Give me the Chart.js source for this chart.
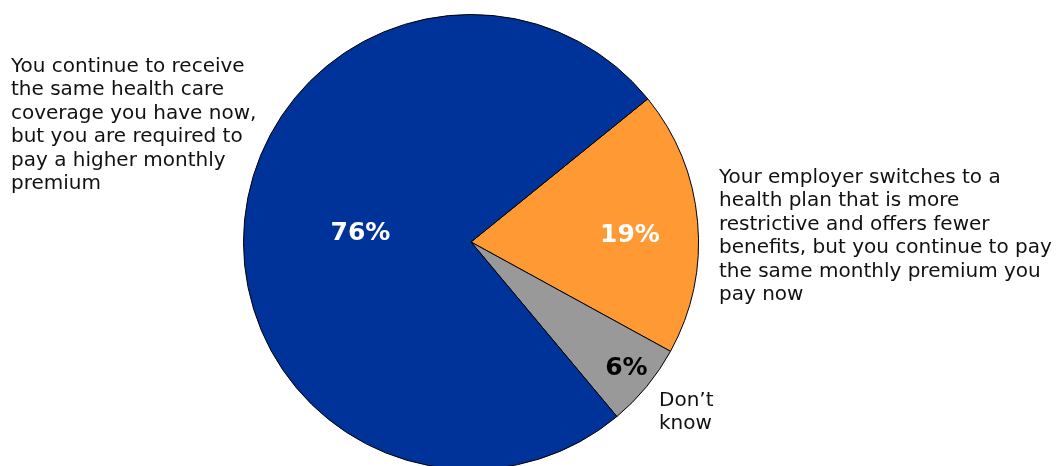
<!DOCTYPE html>
<html>
<head>
<meta charset="utf-8">
<title>Health coverage preference</title>
<script src="https://cdn.jsdelivr.net/npm/chart.js@4/dist/chart.umd.min.js"></script>
<style>
  html, body { margin: 0; padding: 0; background: #ffffff; overflow: hidden; }
  #wrap { width: 1057px; height: 466px; position: relative; }
</style>
</head>
<body>
<div id="wrap"><canvas id="pie" width="1057" height="466"></canvas></div>
<script>
// Answer options, in drawing order (clockwise from the upper-right edge)
const categories = [
  "Your employer switches to a health plan that is more restrictive and offers fewer benefits, but you continue to pay the same monthly premium you pay now",
  "Don\u2019t know",
  "You continue to receive the same health care coverage you have now, but you are required to pay a higher monthly premium"
];
// Share of respondents, percent
const shares = [19, 6, 76];
// Category text as it is broken onto lines beside the pie
const categoryLines = [
  ["Your employer switches to a", "health plan that is more", "restrictive and offers fewer", "benefits, but you continue to pay", "the same monthly premium you", "pay now"],
  ["Don\u2019t", "know"],
  ["You continue to receive", "the same health care", "coverage you have now,", "but you are required to", "pay a higher monthly", "premium"]
];
const sliceColors = ["#FF9933", "#999999", "#003399"];
const pctColors = ["#ffffff", "#000000", "#ffffff"];

// Where each percentage sits: fraction of the radius and a clockwise angular nudge (deg)
const pctPlacement = [
  { frac: 0.70, nudge: 1.9 },
  { frac: 0.874, nudge: -0.8 },
  { frac: 0.488, nudge: 0 }
];
// Where each category text block starts: left x and first baseline
const textBlocks = [
  { x: 719, y: 183 },
  { x: 659, y: 406 },
  { x: 11, y: 72 }
];
const LINE_H = 23.4;
const FONT = '"DejaVu Sans", Verdana, sans-serif';

const labelPlugin = {
  id: 'sliceLabels',
  afterDatasetsDraw(chart) {
    const ctx = chart.ctx;
    const arcs = chart.getDatasetMeta(0).data;
    ctx.save();
    // percentages inside the slices
    ctx.font = 'bold 25px ' + FONT;
    ctx.textAlign = 'center';
    ctx.textBaseline = 'alphabetic';
    arcs.forEach((arc, i) => {
      const p = arc.getProps(['x', 'y', 'startAngle', 'endAngle', 'outerRadius'], true);
      const mid = (p.startAngle + p.endAngle) / 2 + pctPlacement[i].nudge * Math.PI / 180;
      const r = p.outerRadius * pctPlacement[i].frac;
      const cx = p.x + Math.cos(mid) * r;
      const cy = p.y + Math.sin(mid) * r;
      ctx.fillStyle = pctColors[i];
      ctx.fillText(shares[i] + '%', cx, cy + 25 * 0.729 / 2);
    });
    // category descriptions
    ctx.font = '20px ' + FONT;
    ctx.textAlign = 'left';
    ctx.fillStyle = '#111111';
    categoryLines.forEach((lines, i) => {
      lines.forEach((line, j) => {
        ctx.fillText(line, textBlocks[i].x, textBlocks[i].y + j * LINE_H);
      });
    });
    ctx.restore();
  }
};

new Chart(document.getElementById('pie'), {
  type: 'pie',
  data: {
    labels: categories,
    datasets: [{
      data: shares,
      backgroundColor: sliceColors,
      borderColor: '#000000',
      borderWidth: 1,
      radius: 227.5,
      clip: false
    }]
  },
  options: {
    responsive: false,
    animation: false,
    rotation: 51,
    layout: { padding: { left: 0, right: 115, top: 18, bottom: 0 } },
    plugins: {
      legend: { display: false },
      tooltip: { enabled: false }
    }
  },
  plugins: [labelPlugin]
});
</script>
</body>
</html>
